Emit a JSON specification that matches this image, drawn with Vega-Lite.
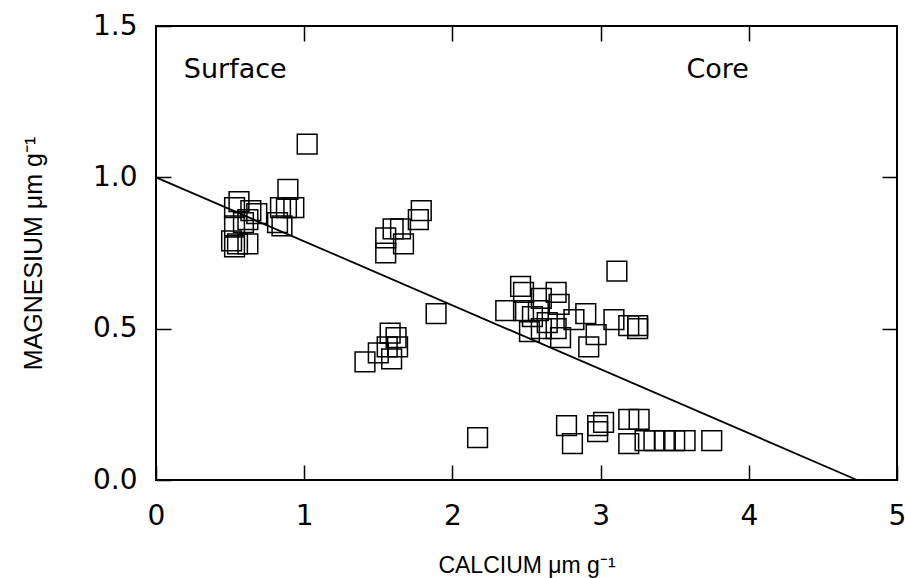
{
  "$schema": "https://vega.github.io/schema/vega-lite/v6.json",
  "width": 741,
  "height": 454,
  "autosize": "none",
  "padding": {"left": 156, "top": 26, "right": 8, "bottom": 98},
  "background": "white",
  "config": {
    "view": {"stroke": "black", "strokeWidth": 2},
    "font": "DejaVu Sans",
    "axis": {"grid": false, "domain": false, "tickColor": "black", "tickWidth": 1.5, "labelColor": "black", "titleColor": "black", "labelFont": "DejaVu Sans", "titleFont": "DejaVu Sans", "titleFontWeight": "normal"}
  },
  "datasets": {
    "pts": [
      {"ca": 1.02, "mg": 1.11}, {"ca": 0.89, "mg": 0.96}, {"ca": 0.56, "mg": 0.92}, {"ca": 0.53, "mg": 0.90},
      {"ca": 0.64, "mg": 0.89}, {"ca": 0.68, "mg": 0.88}, {"ca": 0.84, "mg": 0.90}, {"ca": 0.88, "mg": 0.90},
      {"ca": 0.93, "mg": 0.90}, {"ca": 0.59, "mg": 0.85}, {"ca": 0.62, "mg": 0.86}, {"ca": 0.82, "mg": 0.85},
      {"ca": 0.85, "mg": 0.84}, {"ca": 0.53, "mg": 0.84}, {"ca": 0.51, "mg": 0.79}, {"ca": 0.55, "mg": 0.78},
      {"ca": 0.62, "mg": 0.78}, {"ca": 0.53, "mg": 0.77},
      {"ca": 1.79, "mg": 0.89}, {"ca": 1.77, "mg": 0.86}, {"ca": 1.65, "mg": 0.83}, {"ca": 1.60, "mg": 0.83},
      {"ca": 1.55, "mg": 0.80}, {"ca": 1.67, "mg": 0.78}, {"ca": 1.55, "mg": 0.75},
      {"ca": 1.89, "mg": 0.55}, {"ca": 1.58, "mg": 0.485}, {"ca": 1.62, "mg": 0.47}, {"ca": 1.56, "mg": 0.44},
      {"ca": 1.63, "mg": 0.44}, {"ca": 1.50, "mg": 0.42}, {"ca": 1.59, "mg": 0.40}, {"ca": 1.41, "mg": 0.39},
      {"ca": 3.11, "mg": 0.69}, {"ca": 2.46, "mg": 0.64}, {"ca": 2.48, "mg": 0.62}, {"ca": 2.70, "mg": 0.62},
      {"ca": 2.60, "mg": 0.60}, {"ca": 2.36, "mg": 0.56}, {"ca": 2.48, "mg": 0.56}, {"ca": 2.58, "mg": 0.56},
      {"ca": 2.72, "mg": 0.58}, {"ca": 2.90, "mg": 0.55}, {"ca": 2.82, "mg": 0.53}, {"ca": 3.09, "mg": 0.53},
      {"ca": 3.19, "mg": 0.51}, {"ca": 3.25, "mg": 0.51}, {"ca": 3.25, "mg": 0.50}, {"ca": 2.52, "mg": 0.49},
      {"ca": 2.60, "mg": 0.50}, {"ca": 2.70, "mg": 0.50}, {"ca": 2.73, "mg": 0.47}, {"ca": 2.97, "mg": 0.48},
      {"ca": 2.92, "mg": 0.44}, {"ca": 2.64, "mg": 0.52}, {"ca": 2.54, "mg": 0.54},
      {"ca": 2.17, "mg": 0.14}, {"ca": 2.77, "mg": 0.18}, {"ca": 2.81, "mg": 0.12}, {"ca": 2.98, "mg": 0.18},
      {"ca": 3.02, "mg": 0.19}, {"ca": 2.98, "mg": 0.16}, {"ca": 3.19, "mg": 0.20}, {"ca": 3.26, "mg": 0.20},
      {"ca": 3.19, "mg": 0.12}, {"ca": 3.30, "mg": 0.13}, {"ca": 3.36, "mg": 0.13}, {"ca": 3.43, "mg": 0.13},
      {"ca": 3.50, "mg": 0.13}, {"ca": 3.57, "mg": 0.13}, {"ca": 3.75, "mg": 0.13}
    ],
    "fit": [{"ca": 0, "mg": 1.0}, {"ca": 4.73, "mg": 0}],
    "labels": [
      {"ca": 0.535, "mg": 1.354, "text": "Surface"},
      {"ca": 3.79, "mg": 1.354, "text": "Core"}
    ]
  },
  "layer": [
    {
      "data": {"name": "pts"},
      "mark": {"type": "square", "size": 390, "filled": false, "stroke": "black", "strokeWidth": 1.5, "opacity": 1},
      "encoding": {
        "x": {"field": "ca", "type": "quantitative", "scale": {"domain": [0, 5], "nice": false},
          "axis": {"orient": "bottom", "values": [0, 1, 2, 3, 4, 5], "tickSize": -15, "labelPadding": 37, "labelFontSize": 28, "labelFlush": false, "title": "CALCIUM μm g⁻¹", "titleFont": "Liberation Sans", "titleFontSize": 23, "titlePadding": 24}},
        "y": {"field": "mg", "type": "quantitative", "scale": {"domain": [0, 1.5], "nice": false},
          "axis": {"orient": "left", "values": [0, 0.5, 1.0, 1.5], "format": ".1f", "tickSize": -15, "labelPadding": 34, "labelFontSize": 28, "labelFlush": false, "title": "MAGNESIUM μm g⁻¹", "titleFont": "Liberation Sans", "titleFontSize": 25, "titlePadding": 46}}
      }
    },
    {
      "data": {"name": "fit"},
      "mark": {"type": "line", "color": "black", "strokeWidth": 1.8},
      "encoding": {
        "x": {"field": "ca", "type": "quantitative", "axis": {"orient": "top", "values": [1, 2, 3, 4], "tickSize": -15, "labels": false, "title": null}},
        "y": {"field": "mg", "type": "quantitative", "axis": {"orient": "right", "values": [0.5, 1.0], "tickSize": -15, "labels": false, "title": null}}
      }
    },
    {
      "data": {"name": "labels"},
      "mark": {"type": "text", "fontSize": 27, "font": "DejaVu Sans", "color": "black", "baseline": "middle", "align": "center"},
      "encoding": {
        "x": {"field": "ca", "type": "quantitative", "axis": null},
        "y": {"field": "mg", "type": "quantitative", "axis": null},
        "text": {"field": "text"}
      }
    }
  ],
  "resolve": {"axis": {"x": "independent", "y": "independent"}}
}
